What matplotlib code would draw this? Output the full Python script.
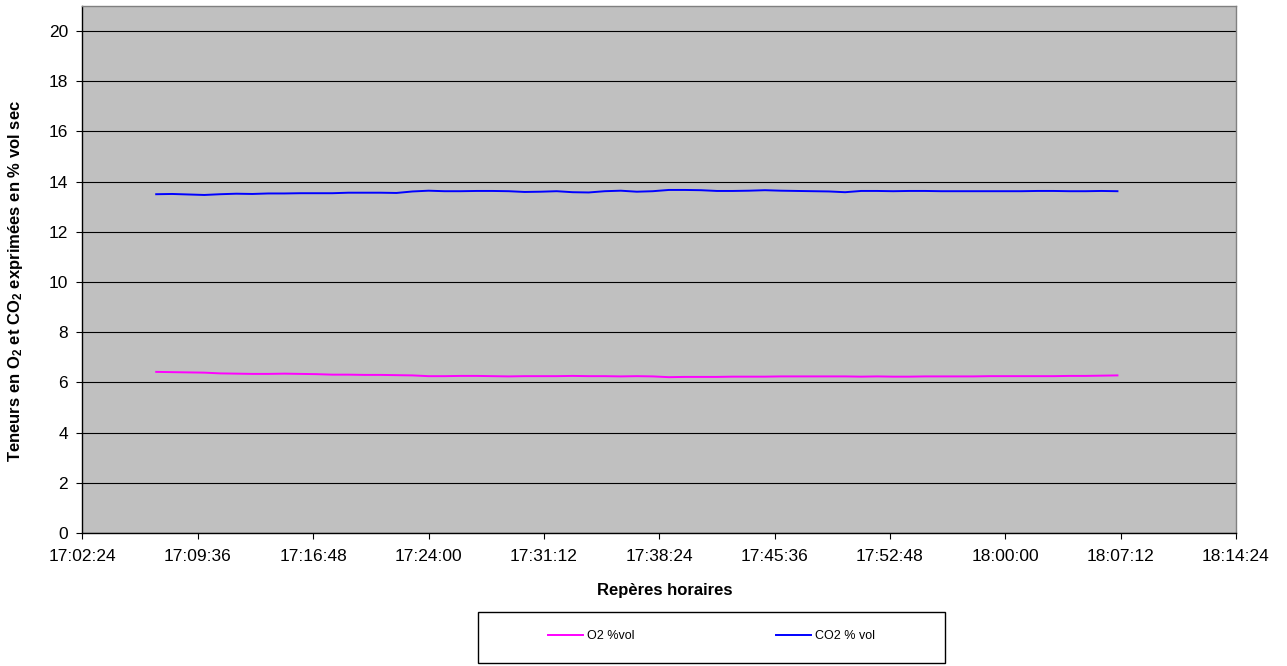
import numpy as np
import matplotlib
matplotlib.use("Agg")
import matplotlib.pyplot as plt
from matplotlib.patches import Rectangle

plt.rcParams['font.family'] = ['Liberation Sans', 'DejaVu Sans']
plt.rcParams['mathtext.fontset'] = 'custom'
plt.rcParams['mathtext.rm'] = 'Liberation Sans:bold'
plt.rcParams['mathtext.default'] = 'rm'

# Sampling: one reading per minute, from 17:07 to 18:07
start_time = "17:07"
n_samples = 61

o2_vol = [6.42, 6.41, 6.40, 6.39, 6.36, 6.35, 6.34, 6.34, 6.35, 6.34,
          6.33, 6.31, 6.31, 6.30, 6.30, 6.29, 6.28, 6.25, 6.25, 6.26,
          6.26, 6.25, 6.24, 6.25, 6.25, 6.25, 6.26, 6.25, 6.25, 6.24,
          6.25, 6.24, 6.21, 6.22, 6.22, 6.22, 6.23, 6.23, 6.23, 6.24,
          6.24, 6.24, 6.24, 6.24, 6.23, 6.24, 6.23, 6.23, 6.24, 6.24,
          6.24, 6.24, 6.25, 6.25, 6.25, 6.25, 6.25, 6.26, 6.26, 6.27,
          6.28]

co2_vol = [13.50, 13.51, 13.49, 13.47, 13.50, 13.52, 13.51, 13.53, 13.53, 13.54,
           13.54, 13.54, 13.56, 13.56, 13.56, 13.55, 13.61, 13.64, 13.62, 13.62,
           13.63, 13.63, 13.62, 13.59, 13.60, 13.62, 13.58, 13.57, 13.62, 13.64,
           13.60, 13.62, 13.67, 13.67, 13.66, 13.63, 13.63, 13.64, 13.66, 13.64,
           13.63, 13.62, 13.61, 13.58, 13.63, 13.63, 13.62, 13.63, 13.63, 13.62,
           13.62, 13.62, 13.62, 13.62, 13.62, 13.63, 13.63, 13.62, 13.62, 13.63,
           13.62]

x_tick_labels = ["17:02:24", "17:09:36", "17:16:48", "17:24:00", "17:31:12",
                 "17:38:24", "17:45:36", "17:52:48", "18:00:00", "18:07:12",
                 "18:14:24"]
y_ticks = [0, 2, 4, 6, 8, 10, 12, 14, 16, 18, 20]


def to_minutes(hms):
    parts = [int(p) for p in hms.split(":")]
    while len(parts) < 3:
        parts.append(0)
    return parts[0] * 60 + parts[1] + parts[2] / 60.0


t0 = to_minutes(start_time)
times = t0 + np.arange(n_samples)
x_ticks = [to_minutes(s) for s in x_tick_labels]

fig = plt.figure(figsize=(12.87, 6.66), dpi=100)
ax = fig.add_axes([82.5 / 1287, 133 / 666, (1236 - 82.5) / 1287, (533 - 6) / 666])
ax.set_facecolor('#C0C0C0')

ax.plot(times, o2_vol, color='#FF00FF', lw=1.4, label='O2 %vol', zorder=3)
ax.plot(times, co2_vol, color='#0000FF', lw=1.4, label='CO2 % vol', zorder=3)

ax.set_xlim(x_ticks[0], x_ticks[-1])
ax.set_ylim(0, 21)
ax.set_xticks(x_ticks)
ax.set_xticklabels(x_tick_labels)
ax.set_yticks(y_ticks)
ax.yaxis.grid(True, color='#000000', lw=0.8)
ax.set_axisbelow(True)

ax.tick_params(axis='both', direction='out', length=4.5, width=0.8,
               labelsize=12.5, color='black')
ax.tick_params(axis='x', pad=7)
ax.tick_params(axis='y', pad=6)

for side in ('left', 'bottom'):
    ax.spines[side].set_color('black')
    ax.spines[side].set_linewidth(1.0)
for side in ('top', 'right'):
    ax.spines[side].set_color('#808080')
    ax.spines[side].set_linewidth(1.0)

fig.text(16 / 1287, 1 - 281 / 666,
         'Teneurs en O$_2$ et CO$_2$ exprimées en % vol sec',
         rotation=90, ha='center', va='center', fontsize=12, fontweight='bold')
fig.text(665 / 1287, 1 - 590 / 666, 'Repères horaires',
         ha='center', va='center', fontsize=12, fontweight='bold')

# Legend box
fig.patches.append(Rectangle((478 / 1287, 3 / 666), 467 / 1287, 51 / 666,
                             transform=fig.transFigure, fill=False,
                             edgecolor='black', lw=1.0))
fig.legend(loc='center', bbox_to_anchor=(711.5 / 1287, 30 / 666), ncol=2,
           frameon=False, fontsize=9, handlelength=2.8, handletextpad=0.3,
           columnspacing=11.3, borderpad=0)

fig.savefig('out.png', dpi=100)
